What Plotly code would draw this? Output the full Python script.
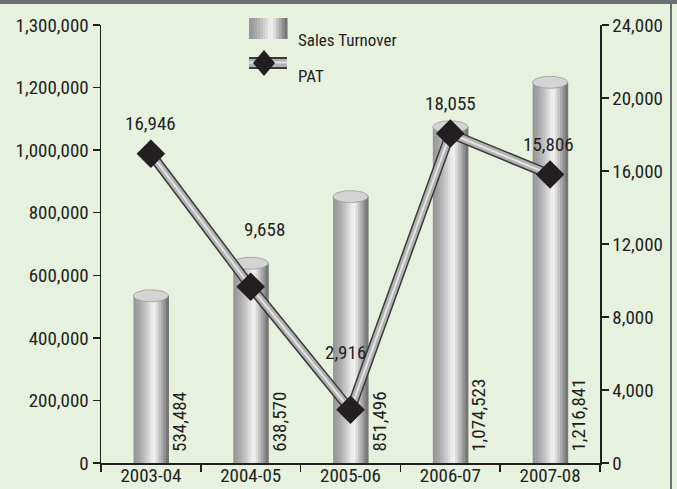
import numpy as np
import plotly.graph_objects as go

# ---------------- data ----------------
categories = ["2003-04", "2004-05", "2005-06", "2006-07", "2007-08"]
sales_turnover = [534484, 638570, 851496, 1074523, 1216841]
pat = [16946, 9658, 2916, 18055, 15806]

left_tick_vals = [0, 200000, 400000, 600000, 800000, 1000000, 1200000, 1400000]
left_tick_text = ["0", "200,000", "400,000", "600,000", "800,000",
                  "1,000,000", "1,200,000", "1,300,000"]
right_tick_vals = [0, 4000, 8000, 12000, 16000, 20000, 24000]
right_tick_text = ["0", "4,000", "8,000", "12,000", "16,000", "20,000", "24,000"]

series_names = ["Sales Turnover", "PAT"]

# ---------------- style ----------------
W, H = 677, 489
X0, X1, Y0, Y1 = 101, 600, 463, 25
LEFT_MAX, RIGHT_MAX = 1400000, 24000
FONT = ("Roboto Condensed, Noto Sans Condensed, Liberation Sans Narrow, "
        "Arial Narrow, DejaVu Sans Condensed, sans-serif")
FS = 19
TXT = "#231f20"
BG = "#e6f1de"
BAR_W = 0.35
NS = 14
pat_label_yshift = [30, 57, 57, 30, 30]
pat_label_xshift = [0, 14, -5, 0, -2]


def px_x(p):
    return (p - X0) / (X1 - X0)


def px_y(p):
    return (Y0 - p) / (Y0 - Y1)


def shade(t):
    if t < 0.58:
        g = 150 + 95 * (t / 0.58) ** 1.4
    else:
        g = 245 - 140 * ((t - 0.58) / 0.42) ** 1.1
    g = int(round(g))
    return f"rgb({g},{g},{g})"


xs = list(range(len(categories)))
fig = go.Figure()

# cylinder bars built from vertical shading slices
for k in range(NS):
    t = (k + 0.5) / NS
    fig.add_trace(go.Bar(
        x=xs, y=sales_turnover,
        width=BAR_W / NS * 1.25,
        offset=-BAR_W / 2 + k * BAR_W / NS,
        marker=dict(color=shade(t), line=dict(width=0)),
        showlegend=False, hoverinfo="skip",
    ))

# elliptical caps
theta = np.linspace(0, 2 * np.pi, 72)
cap_b = 6 * LEFT_MAX / (Y0 - Y1)
for i, v in zip(xs, sales_turnover):
    fig.add_trace(go.Scatter(
        x=i + BAR_W / 2 * np.cos(theta), y=v + cap_b * np.sin(theta),
        mode="lines", fill="toself", fillcolor="#d4d4d4",
        line=dict(color="#9a9a9a", width=0.8),
        showlegend=False, hoverinfo="skip",
    ))

# PAT line as a tube
fig.add_trace(go.Scatter(x=xs, y=pat, yaxis="y2", mode="lines",
                         line=dict(color="#3a3a3a", width=10),
                         showlegend=False, hoverinfo="skip"))
fig.add_trace(go.Scatter(x=xs, y=pat, yaxis="y2", mode="lines",
                         line=dict(color="#b2b2b2", width=7),
                         showlegend=False, hoverinfo="skip"))
fig.add_trace(go.Scatter(x=xs, y=pat, yaxis="y2", mode="lines",
                         line=dict(color="#e4e4e4", width=2),
                         showlegend=False, hoverinfo="skip"))
fig.add_trace(go.Scatter(x=xs, y=pat, yaxis="y2", mode="markers",
                         marker=dict(symbol="diamond", size=22, color=TXT),
                         showlegend=False, name=series_names[1]))

annotations = []
# rotated value labels for sales
for i, v in zip(xs, sales_turnover):
    annotations.append(dict(
        x=i, y=0, xref="x", yref="y", text=f"{v:,}", textangle=-90,
        showarrow=False, xshift=28, yshift=9, yanchor="bottom",
        xanchor="center", font=dict(family=FONT, size=FS, color=TXT)))
# PAT labels
for i, v, dy, dx in zip(xs, pat, pat_label_yshift, pat_label_xshift):
    annotations.append(dict(
        x=i, y=v, xref="x", yref="y2", text=f"{v:,}", showarrow=False,
        yshift=dy, xshift=dx, font=dict(family=FONT, size=FS, color=TXT)))

# custom legend
shapes = []
lx0, lx1 = 249, 287
for k in range(NS):
    t = (k + 0.5) / NS
    shapes.append(dict(type="rect", xref="paper", yref="paper",
                       x0=px_x(lx0 + k * (lx1 - lx0) / NS),
                       x1=px_x(lx0 + (k + 1.2) * (lx1 - lx0) / NS),
                       y0=px_y(39), y1=px_y(18),
                       fillcolor=shade(t), line=dict(width=0)))
for (ya, yb, c) in [(57, 69, "#3a3a3a"), (59, 67, "#b2b2b2"), (61.5, 63.5, "#e4e4e4")]:
    shapes.append(dict(type="rect", xref="paper", yref="paper",
                       x0=px_x(lx0), x1=px_x(lx1), y0=px_y(yb), y1=px_y(ya),
                       fillcolor=c, line=dict(width=0)))
cx, cy, hw, hh = 264, 63, 11, 13
path = (f"M {px_x(cx - hw)},{px_y(cy)} L {px_x(cx)},{px_y(cy - hh)} "
        f"L {px_x(cx + hw)},{px_y(cy)} L {px_x(cx)},{px_y(cy + hh)} Z")
shapes.append(dict(type="path", xref="paper", yref="paper", path=path,
                   fillcolor=TXT, line=dict(width=0)))
annotations.append(dict(x=px_x(296), y=px_y(28.5), xref="paper", yref="paper",
                        text=series_names[0], showarrow=False, xanchor="left",
                        font=dict(family=FONT, size=17, color=TXT)))
annotations.append(dict(x=px_x(296), y=px_y(64), xref="paper", yref="paper",
                        text=series_names[1], showarrow=False, xanchor="left",
                        font=dict(family=FONT, size=17, color=TXT)))

# frame: top band and right border
shapes.append(dict(type="rect", xref="paper", yref="paper",
                   x0=px_x(-5), x1=px_x(W + 5), y0=px_y(4), y1=px_y(-5),
                   fillcolor="#6d6e71", line=dict(width=0)))
shapes.append(dict(type="line", xref="paper", yref="paper",
                   x0=px_x(671), x1=px_x(671), y0=px_y(0), y1=px_y(H + 5),
                   line=dict(color="#6d6e71", width=2)))

axis_common = dict(showline=True, linecolor=TXT, linewidth=1.5,
                   showgrid=False, zeroline=False, automargin=False,
                   tickfont=dict(family=FONT, size=FS, color=TXT))

fig.update_layout(
    width=W, height=H,
    margin=dict(l=X0, r=W - X1, t=Y1, b=H - Y0, autoexpand=False),
    paper_bgcolor=BG, plot_bgcolor=BG,
    barmode="overlay", showlegend=False,
    font=dict(family=FONT, color=TXT),
    xaxis=dict(range=[-0.5, len(categories) - 0.5], tickvals=xs,
               ticktext=categories, ticks="", ticklabelstandoff=-5,
               minor=dict(tickvals=[i - 0.5 for i in range(len(categories) + 1)],
                          ticks="outside", ticklen=7, tickwidth=1.5,
                          tickcolor=TXT, showgrid=False),
               **axis_common),
    yaxis=dict(range=[0, LEFT_MAX], tickvals=left_tick_vals,
               ticktext=left_tick_text, ticks="outside", ticklen=7,
               tickwidth=1.5, tickcolor=TXT, **axis_common),
    yaxis2=dict(range=[0, RIGHT_MAX], tickvals=right_tick_vals,
                ticktext=right_tick_text, ticks="outside", ticklen=7,
                tickwidth=1.5, tickcolor=TXT, overlaying="y", side="right",
                **axis_common),
    shapes=shapes, annotations=annotations,
)

fig.write_html(
    "out.html",
    config={"displayModeBar": False, "staticPlot": True},
    post_script="document.body.style.margin='0';document.body.style.overflow='hidden';"
                "document.body.style.background='" + BG + "';",
)
